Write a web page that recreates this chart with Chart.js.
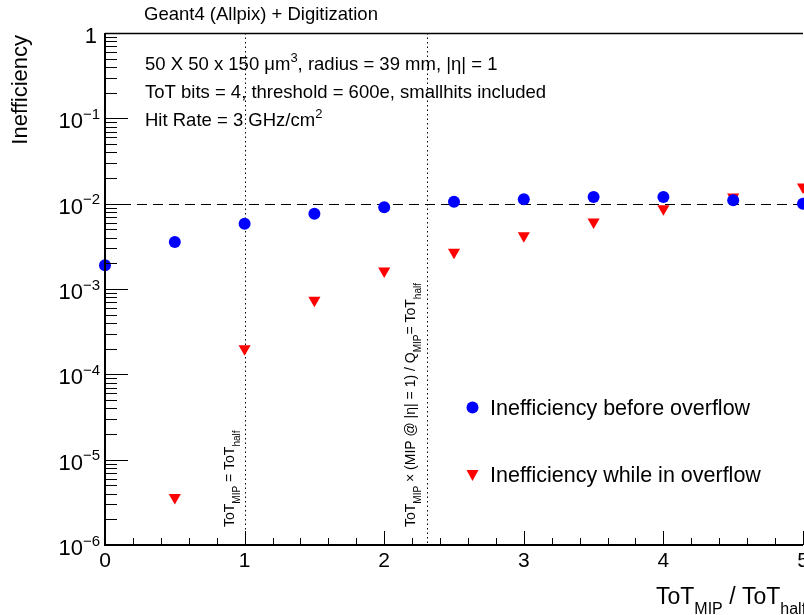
<!DOCTYPE html>
<html>
<head>
<meta charset="UTF-8">
<title>Inefficiency vs ToT</title>
<script src="https://cdn.jsdelivr.net/npm/chart.js"></script>
<style>
  html, body { margin: 0; padding: 0; background: #fff; }
  #wrap { width: 804px; height: 615px; }
</style>
</head>
<body>
<div id="wrap"><canvas id="c" width="804" height="615"></canvas></div>
<script>
// values
const totRatio = [0, 0.5, 1, 1.5, 2, 2.5, 3, 3.5, 4, 4.5, 5];
const ineffBefore = [1.9e-3, 3.55e-3, 5.8e-3, 7.6e-3, 9.1e-3, 1.05e-2, 1.13e-2, 1.2e-2, 1.2e-2, 1.1e-2, 1.0e-2];
const ineffOverflow = [null, 3.6e-6, 2.0e-4, 7.4e-4, 1.62e-3, 2.7e-3, 4.2e-3, 6.1e-3, 8.7e-3, 1.2e-2, 1.57e-2];
const yDecades = [0, -1, -2, -3, -4, -5, -6];
const xMajor = [0, 1, 2, 3, 4, 5];
const refLevel = 1e-2;
const refLines = [1, 2.305];

const FONT = 'Liberation Sans, Arial, sans-serif';

function pts(ys) {
  return totRatio.map((x, i) => ({ x: x, y: ys[i] })).filter(p => p.y !== null);
}

// draw text made of normal / sub / sup pieces
function rich(ctx, parts, x, y, size, align) {
  const small = Math.round(size * 0.7);
  let w = 0;
  parts.forEach(p => {
    ctx.font = (p[1] ? small : size) + 'px ' + FONT;
    w += ctx.measureText(p[0]).width;
  });
  let cx = align === 'right' ? x - w : align === 'center' ? x - w / 2 : x;
  ctx.textAlign = 'left';
  ctx.textBaseline = 'alphabetic';
  parts.forEach(p => {
    ctx.font = (p[1] ? small : size) + 'px ' + FONT;
    let dy = 0;
    if (p[1] === 'sub') dy = size * 0.45;
    if (p[1] === 'sup') dy = -size * 0.42;
    ctx.fillText(p[0], cx, y + dy);
    cx += ctx.measureText(p[0]).width;
  });
  return w;
}

const rootFrame = {
  id: 'rootFrame',
  beforeDatasetsDraw(chart) {
    const ctx = chart.ctx, a = chart.chartArea;
    const xs = chart.scales.x, ys = chart.scales.y;
    ctx.save();
    // reference lines
    ctx.strokeStyle = '#000';
    ctx.lineWidth = 1;
    ctx.setLineDash([10, 6]);
    ctx.beginPath();
    const yr = Math.round(ys.getPixelForValue(refLevel)) + 0.5;
    ctx.moveTo(a.left, yr); ctx.lineTo(a.right, yr);
    ctx.stroke();
    ctx.setLineDash([1.5, 3]);
    refLines.forEach(v => {
      const px = Math.round(xs.getPixelForValue(v)) + 0.5;
      ctx.beginPath();
      ctx.moveTo(px, a.top); ctx.lineTo(px, a.bottom);
      ctx.stroke();
    });
    ctx.restore();
  },
  afterDraw(chart) {
    const ctx = chart.ctx, a = chart.chartArea;
    const xs = chart.scales.x, ys = chart.scales.y;
    ctx.save();
    ctx.fillStyle = '#000';
    ctx.strokeStyle = '#000';
    ctx.setLineDash([]);
    // frame
    ctx.lineWidth = 2;
    ctx.beginPath();
    ctx.moveTo(a.left, a.top); ctx.lineTo(a.left, a.bottom); ctx.lineTo(a.right, a.bottom);
    ctx.stroke();
    ctx.lineWidth = 1.5;
    ctx.beginPath();
    ctx.moveTo(a.left, a.top + 0.5); ctx.lineTo(a.right, a.top + 0.5);
    ctx.stroke();
    // y ticks (inside)
    ctx.lineWidth = 1;
    yDecades.forEach(d => {
      const py = Math.round(ys.getPixelForValue(Math.pow(10, d))) + 0.5;
      ctx.beginPath(); ctx.moveTo(a.left, py); ctx.lineTo(a.left + 23, py); ctx.stroke();
      if (d < 0) {
        for (let m = 2; m <= 9; m++) {
          const pm = Math.round(ys.getPixelForValue(m * Math.pow(10, d))) + 0.5;
          ctx.beginPath(); ctx.moveTo(a.left, pm); ctx.lineTo(a.left + 12, pm); ctx.stroke();
        }
      }
      const ty = ys.getPixelForValue(Math.pow(10, d)) + 10;
      if (d === 0) rich(ctx, [['1']], a.left - 8, ty, 22, 'right');
      else rich(ctx, [['10'], ['\u2212' + (-d), 'sup']], a.left - 5, ty, 22, 'right');
    });
    // x ticks (inside)
    for (let i = 0; i <= 25; i++) {
      const v = i * 0.2;
      const px = Math.round(xs.getPixelForValue(v)) + 0.5;
      const len = i % 5 === 0 ? 14 : 7;
      ctx.beginPath(); ctx.moveTo(px, a.bottom); ctx.lineTo(px, a.bottom - len); ctx.stroke();
    }
    xMajor.forEach(v => {
      rich(ctx, [[String(v)]], xs.getPixelForValue(v), a.bottom + 22, 21, 'center');
    });
    // titles
    rich(ctx, [['Geant4 (Allpix) + Digitization']], 144, 20, 18.5, 'left');
    rich(ctx, [['ToT'], ['MIP', 'sub'], [' / ToT'], ['half', 'sub']], 656, 604, 23, 'left');
    ctx.save();
    ctx.translate(27, a.top + 2);
    ctx.rotate(-Math.PI / 2);
    rich(ctx, [['Inefficiency']], 0, 0, 22, 'right');
    ctx.restore();
    // annotations
    rich(ctx, [['50 X 50 x 150 \u03bcm'], ['3', 'sup'], [', radius = 39 mm, |\u03b7| = 1']], 145, 70, 18.5, 'left');
    rich(ctx, [['ToT bits = 4, threshold = 600e, smallhits included']], 145, 98, 18.5, 'left');
    rich(ctx, [['Hit Rate = 3 GHz/cm'], ['2', 'sup']], 145, 126, 18.5, 'left');
    // rotated labels on the reference lines
    ctx.save();
    ctx.translate(xs.getPixelForValue(refLines[0]) - 11, a.bottom - 18);
    ctx.rotate(-Math.PI / 2);
    rich(ctx, [['ToT'], ['MIP', 'sub'], [' = ToT'], ['half', 'sub']], 0, 0, 14, 'left');
    ctx.restore();
    ctx.save();
    ctx.translate(xs.getPixelForValue(refLines[1]) - 12, a.bottom - 18);
    ctx.rotate(-Math.PI / 2);
    rich(ctx, [['ToT'], ['MIP', 'sub'], [' \u00d7 (MIP @ |\u03b7| = 1) / Q'], ['MIP', 'sub'], ['= ToT'], ['half', 'sub']], 0, 0, 14, 'left');
    ctx.restore();
    // legend
    ctx.fillStyle = '#0000ff';
    ctx.beginPath(); ctx.arc(472.5, 407.5, 6, 0, Math.PI * 2); ctx.fill();
    ctx.fillStyle = '#ff0000';
    ctx.beginPath(); ctx.moveTo(466.5, 470); ctx.lineTo(478.5, 470); ctx.lineTo(472.5, 481); ctx.closePath(); ctx.fill();
    ctx.fillStyle = '#000';
    rich(ctx, [['Inefficiency before overflow']], 490, 415, 21.5, 'left');
    rich(ctx, [['Inefficiency while in overflow']], 490, 482, 21.5, 'left');
    ctx.restore();
  }
};

new Chart(document.getElementById('c').getContext('2d'), {
  type: 'scatter',
  data: {
    datasets: [
      {
        label: 'Inefficiency before overflow',
        data: pts(ineffBefore),
        pointStyle: 'circle',
        pointRadius: 6,
        backgroundColor: '#0000ff',
        borderWidth: 0
      },
      {
        label: 'Inefficiency while in overflow',
        data: pts(ineffOverflow),
        pointStyle: 'triangle',
        rotation: 180,
        pointRadius: 7,
        backgroundColor: '#ff0000',
        borderWidth: 0
      }
    ]
  },
  options: {
    responsive: false,
    animation: false,
    clip: false,
    layout: { autoPadding: false, padding: { left: 105, top: 33, right: 1, bottom: 70 } },
    plugins: { legend: { display: false }, tooltip: { enabled: false } },
    scales: {
      x: { type: 'linear', min: 0, max: 5, display: false, grid: { display: false } },
      y: { type: 'logarithmic', min: 1e-6, max: 1, display: false, grid: { display: false } }
    }
  },
  plugins: [rootFrame]
});
</script>
</body>
</html>
